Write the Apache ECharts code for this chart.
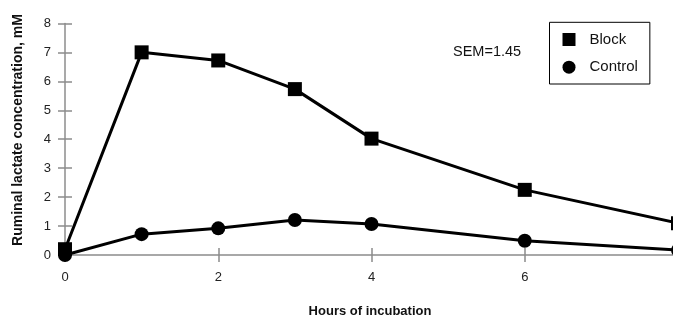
<!DOCTYPE html>
<html><head><meta charset="utf-8">
<script src="https://cdn.jsdelivr.net/npm/echarts@6/dist/echarts.min.js"></script>
<style>html,body{margin:0;padding:0;background:#fff}#c{width:673px;height:318px}</style>
</head><body><div id="c"></div>
<script>
const hours = [0, 1, 2, 3, 4, 6, 8];
const blockValues = [0.2, 7.0, 6.72, 5.73, 4.02, 2.25, 1.1];
const controlValues = [0.0, 0.72, 0.92, 1.21, 1.07, 0.49, 0.17];
const xTicks = [0, 2, 4, 6, 8];
const yTicks = [0, 1, 2, 3, 4, 5, 6, 7, 8];
const seriesNames = ['Block', 'Control'];

const font = '"Liberation Sans", Arial, Helvetica, sans-serif';
const axisColor = '#8c8c8c';
const chart = echarts.init(document.getElementById('c'));
const toPairs = (xs, ys) => xs.map((x, i) => [x, ys[i]]);

const xBase = {
  type: 'value', min: xTicks[0], max: xTicks[xTicks.length - 1], interval: 2,
  axisLine: { onZero: false, lineStyle: { color: axisColor, width: 1.5 } },
  axisTick: { length: 7, lineStyle: { color: axisColor, width: 1.5 } },
  splitLine: { show: false }
};
const yBase = {
  type: 'value', min: yTicks[0], max: yTicks[yTicks.length - 1], interval: 1,
  axisLine: { onZero: false, lineStyle: { color: axisColor, width: 1.5 } },
  axisTick: { length: 7, lineStyle: { color: axisColor, width: 1.5 } },
  splitLine: { show: false }
};

chart.setOption({
  animation: false,
  grid: { left: 65, width: 613, top: 23.4, height: 231.6, containLabel: false, outerBoundsMode: 'none' },
  xAxis: [
    Object.assign({}, xBase, {
      position: 'bottom',
      axisLabel: { color: '#222', fontSize: 13, fontFamily: font, margin: 16,
        formatter: v => (v === 8 ? '' : String(v)) }
    }),
    Object.assign({}, xBase, {
      position: 'bottom',
      axisLine: { show: false },
      axisTick: { inside: true, length: 7, lineStyle: { color: axisColor, width: 1.5 } },
      axisLabel: { show: false }
    })
  ],
  yAxis: [
    Object.assign({}, yBase, {
      position: 'left',
      axisLabel: { color: '#222', fontSize: 13, fontFamily: font, margin: 14 }
    }),
    Object.assign({}, yBase, {
      position: 'left',
      axisLine: { show: false },
      axisTick: { inside: true, length: 7, lineStyle: { color: axisColor, width: 1.5 } },
      axisLabel: { show: false }
    })
  ],
  legend: {
    orient: 'vertical',
    left: 549.5, top: 22.3,
    padding: [9.7, 12, 9.3, 13],
    itemWidth: 13, itemHeight: 13, itemGap: 12.7,
    borderColor: '#000', borderWidth: 1,
    textStyle: { color: '#111', fontSize: 15, lineHeight: 14, fontFamily: font, padding: [0, 0, 0, 9] },
    data: [
      { name: seriesNames[0], icon: 'rect' },
      { name: seriesNames[1], icon: 'circle' }
    ]
  },
  graphic: [
    { type: 'text', x: 453, y: 52,
      style: { text: 'SEM=1.45', fill: '#111', fontSize: 14.5, fontFamily: font, verticalAlign: 'middle' } },
    { type: 'text', x: 18, y: 130, rotation: Math.PI / 2,
      style: { text: 'Ruminal lactate concentration, mM', fill: '#111', fontSize: 14,
        fontWeight: 'bold', fontFamily: font, align: 'center', verticalAlign: 'middle' } },
    { type: 'text', x: 370, y: 311,
      style: { text: 'Hours of incubation', fill: '#111', fontSize: 13,
        fontWeight: 'bold', fontFamily: font, align: 'center', verticalAlign: 'middle' } }
  ],
  series: [
    { name: seriesNames[0], type: 'line', data: toPairs(hours, blockValues),
      symbol: 'rect', symbolSize: 14, clip: false,
      lineStyle: { color: '#000', width: 3 }, itemStyle: { color: '#000' } },
    { name: seriesNames[1], type: 'line', data: toPairs(hours, controlValues),
      symbol: 'circle', symbolSize: 14, clip: false,
      lineStyle: { color: '#000', width: 3 }, itemStyle: { color: '#000' } }
  ]
});
</script></body></html>
